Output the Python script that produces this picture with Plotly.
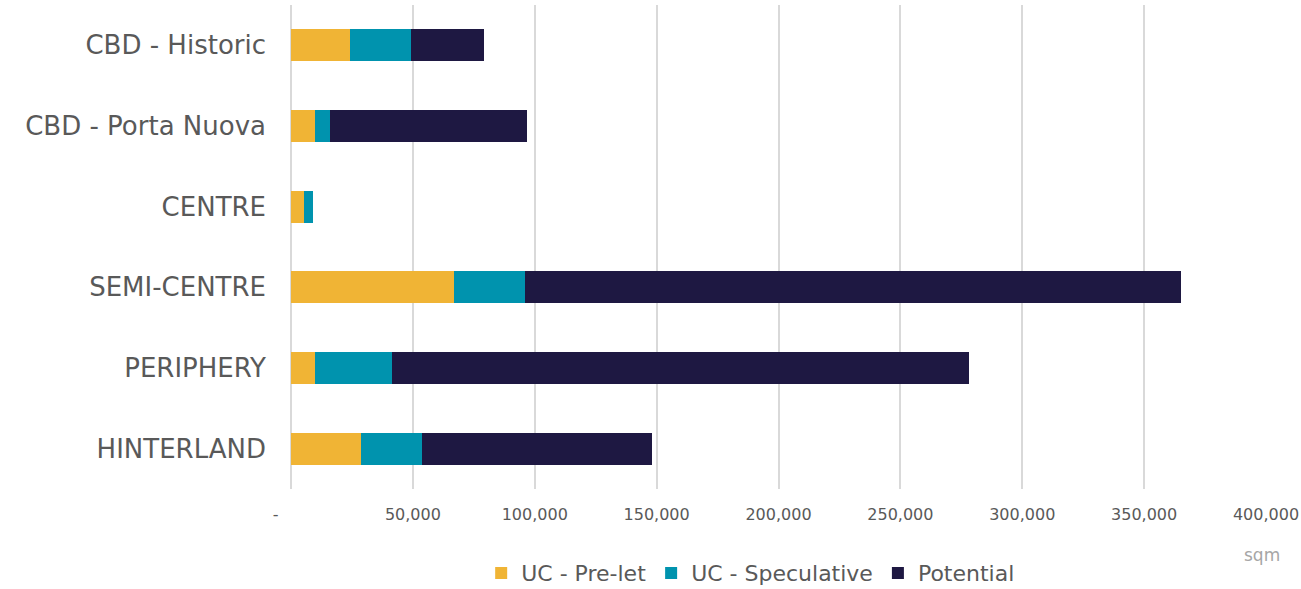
import plotly.graph_objects as go

categories = ["CBD - Historic", "CBD - Porta Nuova", "CENTRE", "SEMI-CENTRE", "PERIPHERY", "HINTERLAND"]
uc_prelet = [24000, 9700, 5300, 66800, 9700, 28700]
uc_speculative = [25300, 6200, 3600, 29000, 31600, 25100]
potential = [29800, 80800, 0, 269300, 237000, 94400]

tick_vals = [0, 50000, 100000, 150000, 200000, 250000, 300000, 350000, 400000]
tick_text = ["-" + "\u00a0" * 6, "50,000", "100,000", "150,000", "200,000", "250,000", "300,000", "350,000", "400,000"]

series = [
    ("UC - Pre-let", uc_prelet, "#F0B435"),
    ("UC - Speculative", uc_speculative, "#0093AE"),
    ("Potential", potential, "#1E1842"),
]

FONT = "DejaVu Sans"

fig = go.Figure()
for name, vals, color in series:
    fig.add_trace(go.Bar(
        y=categories, x=vals, name=name, orientation="h",
        marker=dict(color=color, line=dict(width=0)),
        width=0.4,
    ))

fig.update_layout(
    barmode="stack",
    width=1301, height=589,
    margin=dict(l=291, r=35, t=5, b=100, autoexpand=False),
    paper_bgcolor="white", plot_bgcolor="white",
    font=dict(family=FONT, color="#595959"),
    legend=dict(
        orientation="h", x=0.577, xanchor="center", xref="container",
        y=0.027, yanchor="middle", yref="container",
        font=dict(size=22, color="#595959", family=FONT),
        traceorder="normal", itemwidth=30,
    ),
    xaxis=dict(
        range=[0, 400000],
        tickvals=tick_vals, ticktext=tick_text,
        showgrid=True, gridcolor="#D9D9D9", gridwidth=2,
        zeroline=True, zerolinecolor="#D9D9D9", zerolinewidth=2,
        tickfont=dict(size=16, color="#595959", family=FONT),
        ticklabelstandoff=14,
        showline=False,
    ),
    yaxis=dict(
        autorange="reversed",
        tickfont=dict(size=26, color="#595959", family=FONT),
        ticklabelstandoff=24,
        showgrid=False, showline=False,
    ),
    annotations=[dict(
        text="sqm", xref="paper", yref="paper",
        x=(1262 - 291) / (1301 - 291 - 35),
        y=-(555 - 489) / (589 - 5 - 100),
        xanchor="center", yanchor="middle",
        showarrow=False, font=dict(size=17, color="#A6A6A6", family=FONT),
    )],
)

fig.write_html("out.html")
